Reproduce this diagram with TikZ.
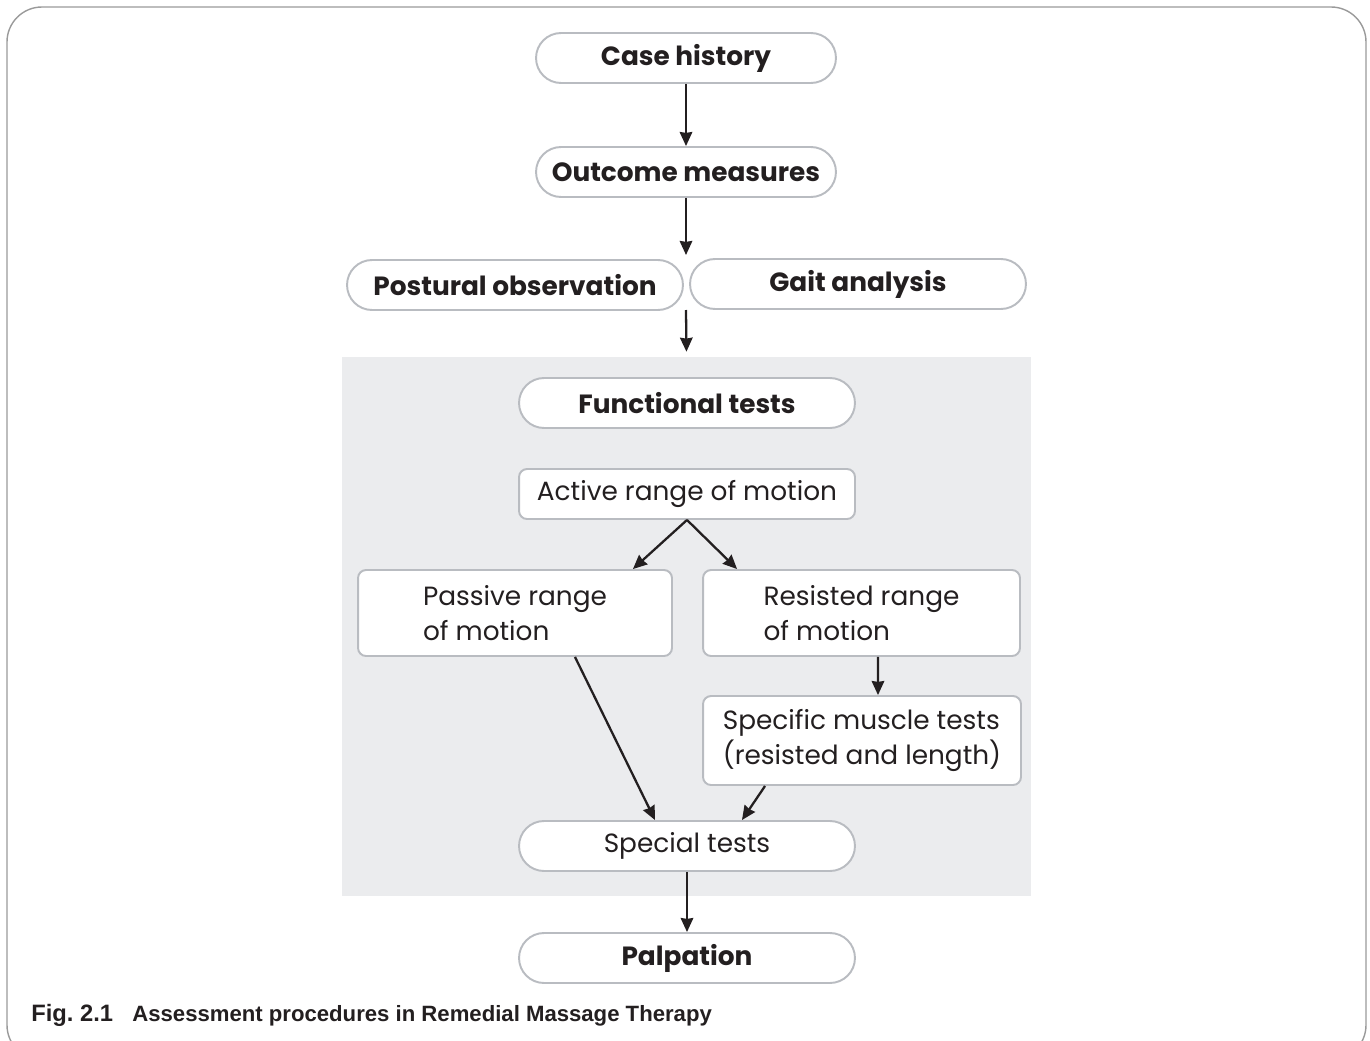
\documentclass[tikz,border=0pt]{standalone}
\usepackage{fontspec}
\setmainfont{Poppins}
\newfontfamily\capfont{Liberation Sans}
\usetikzlibrary{arrows,arrows.meta}

\definecolor{boxline}{HTML}{B9BCC1}
\definecolor{panelgray}{HTML}{EBECEE}
\definecolor{ink}{HTML}{231F20}
\definecolor{framegray}{HTML}{9A9A9A}

\begin{document}
\begin{tikzpicture}[x=0.02cm,y=-0.02cm,
		pill/.style={draw=boxline,line width=1.1pt,fill=white,rounded corners=0.5cm,minimum height=1cm,inner sep=0pt,text=ink,font=\fontsize{15}{18}\selectfont},
		tile/.style={draw=boxline,line width=1.1pt,fill=white,rounded corners=0.16cm,inner sep=0pt,text=ink,align=left,font=\fontsize{15}{19.5}\selectfont},
		flow/.style={-{Stealth[length=0.28cm,width=0.25cm,inset=0.5pt]},ink,line width=1.3pt}]
		\useasboundingbox (0,0) rectangle (1370,1041);
		
		% Draw outer frame
		\draw [framegray,line width=0.8pt,rounded corners=0.7cm] (7,7) rectangle (1366,1060);
		
		% Draw grey panel
		\node (panel) [fill=panelgray,minimum width=13.78cm,minimum height=10.78cm,inner sep=0pt] at (686.5,626.5) {};
		
		% Draw top steps
		\node (case) [pill,minimum width=6cm] at (686,58) {\bfseries Case history};
		\node (outcome) [pill,minimum width=6cm] at (686,172) {\bfseries Outcome measures};
		\node (postural) [pill,minimum width=6.72cm] at (515,285) {\bfseries Postural observation};
		\node (gait) [pill,minimum width=6.72cm] at (858,284) {\bfseries Gait analysis};
		\coordinate (obsin) at (686,255);
		\coordinate (obsout) at (686,310);
		
		% Draw panel steps
		\node (functional) [pill,minimum width=6.72cm] at (687,403) {\bfseries Functional tests};
		\node (active) [tile,minimum width=6.72cm,minimum height=1cm] at (687,494) {Active range of motion};
		\node (passive) [tile,minimum width=6.28cm,minimum height=1.72cm] at (515,613) {Passive range\\of motion};
		\node (resisted) [tile,minimum width=6.34cm,minimum height=1.72cm] at (861.5,613) {Resisted range\\of motion};
		\node (specific) [tile,minimum width=6.36cm,minimum height=1.78cm] at (862,740.5) {Specific muscle tests\\(resisted and length)};
		\node (special) [pill,minimum width=6.72cm] at (687,846) {Special tests};
		
		% Draw last step
		\node (palpation) [pill,minimum width=6.72cm] at (687,958) {\bfseries Palpation};
		
		% Draw arrows
		\draw [flow] (case) -- (outcome);
		\draw [flow] (outcome) -- (obsin);
		\draw [flow,shorten >=0.1cm] (obsout) -- (panel.north);
		\draw [flow] (active.south) -- ([xshift=-0.8cm]passive.north east);
		\draw [flow] (active.south) -- ([xshift=0.7cm]resisted.north west);
		\draw [flow] ([xshift=1.2cm]passive.south) -- ([xshift=-0.64cm]special.north);
		\draw [flow] ([xshift=0.33cm]resisted.south) -- ([xshift=0.32cm]specific.north);
		\draw [flow] ([xshift=1.26cm]specific.south west) -- ([xshift=1.1cm]special.north);
		\draw [flow] (special) -- (palpation);
		
		% Draw caption
		\node (caption) [anchor=west,inner sep=0pt,text=ink,font=\capfont\bfseries\fontsize{12.6}{15}\selectfont] at (31,1015) {\fontsize{13.5}{15}\selectfont Fig.~2.1\hspace{11pt}\fontsize{12.6}{15}\selectfont Assessment procedures in Remedial Massage Therapy};
\end{tikzpicture}
\end{document}
